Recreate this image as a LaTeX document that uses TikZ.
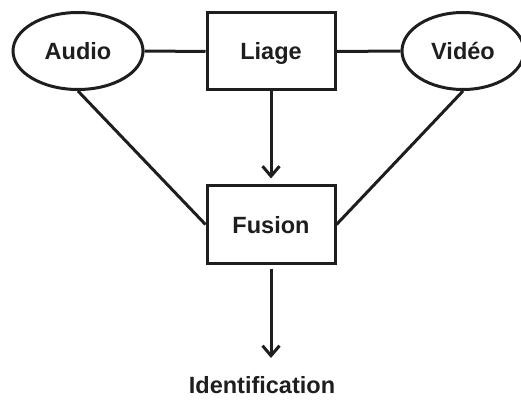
\documentclass[tikz,border=0pt]{standalone}
\usepackage{fontspec}
\setmainfont{Liberation Sans}
\usetikzlibrary{shapes.geometric,arrows.meta}
\definecolor{ink}{HTML}{1E1E1E}
\tikzset{
  every node/.style={font=\fontsize{23.5}{26}\selectfont\bfseries, text=ink, text height=17pt, text depth=0pt},
  oval/.style={draw=ink, line width=3pt, ellipse, inner sep=0pt, minimum height=77pt},
  boxnode/.style={draw=ink, line width=3pt, rectangle, inner sep=0pt, minimum width=128pt, minimum height=77pt},
  conn/.style={draw=ink, line width=3pt},
  arr/.style={conn, -{Straight Barb[length=10pt,width=17pt]}}
}
\begin{document}
\begin{tikzpicture}[x=1pt,y=-1pt]
\useasboundingbox (0,0) rectangle (521,403);
\node[oval, minimum width=130pt] (audio) at (78,51) {Audio};
\node[boxnode] (liage) at (271,51.5) {Liage};
\node[oval, minimum width=122pt] (video) at (463,51) {Vidéo};
\node[boxnode] (fusion) at (271,224.5) {Fusion};
\node[anchor=base] (ident) at (262,393) {Identification};
\coordinate (tip) at (271,358);
\draw[conn] (audio.east) -- (liage.west);
\draw[conn] (liage.east) -- (video.west);
\draw[conn] (audio.south) -- (fusion.west);
\draw[conn] (video.south) -- (fusion.east);
\draw[arr, shorten >=6pt] (liage.south) -- (fusion.north);
\draw[arr, shorten <=4pt] (fusion.south) -- (tip);
\end{tikzpicture}
\end{document}
